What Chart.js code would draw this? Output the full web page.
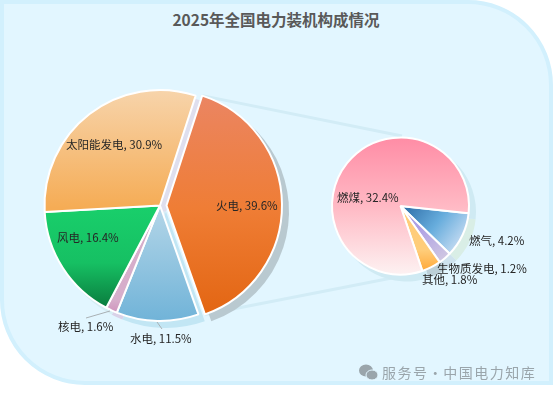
<!DOCTYPE html>
<html>
<head>
<meta charset="utf-8">
<script src="https://cdn.jsdelivr.net/npm/chart.js@4"></script>
<style>
html, body { margin: 0; padding: 0; background: #fff; }
#page { position: relative; width: 554px; height: 394px; overflow: hidden; font-family: "Noto Sans CJK SC", sans-serif; }
#panel { position: absolute; left: 0; top: 0; width: 545px; height: 377px; background: #e2f6ff; border: 4px solid #d2f0fd; border-radius: 0 85px 0 85px; }
#title { position: absolute; left: -1px; top: 9px; width: 554px; text-align: center; font-size: 15.5px; line-height: 20px; font-weight: bold; color: #595959; }
canvas { position: absolute; left: 0; top: 0; }
#mark { position: absolute; left: 359px; top: 362px; height: 20px; display: flex; align-items: center; font-size: 14px; color: #9aa5ab; letter-spacing: 1.5px; word-spacing: -5px; }
#mark svg { margin-right: 4px; }
</style>
</head>
<body>
<div id="page">
  <div id="panel"></div>
  <div id="title">2025年全国电力装机构成情况</div>
  <canvas id="main" width="554" height="394"></canvas>
  <canvas id="zoom" width="554" height="394"></canvas>
  <div id="mark">
    <svg width="19" height="17" viewBox="0 0 19 17">
      <ellipse cx="7" cy="6.5" rx="7" ry="6" fill="#9aa5ab"/>
      <ellipse cx="13" cy="11" rx="6" ry="5" fill="#9aa5ab" stroke="#e2f6ff"/>
    </svg>服务号 · 中国电力知库
  </div>
</div>
<script>
// data
var mainCategories = ['火电', '水电', '核电', '风电', '太阳能发电'];
var mainValues = [39.6, 11.5, 1.6, 16.4, 30.9];
var zoomCategories = ['燃气', '生物质发电', '其他', '燃煤'];
var zoomValues = [4.2, 1.2, 1.8, 32.4];

// styles
var mainGradients = [
    [0, 96, 0, 322, ['#eb8562', '#ef7d35', '#e26410']],
    [0, 206, 0, 322, ['#b4d6e8', '#70b3d8']],
    [0, 300, 0, 320, ['#d6aecb', '#cc85b5']],
    [0, 206, 0, 320, ['#19cf6b', '#16c063', '#076833']],
    [0, 90, 0, 208, ['#f7d4ab', '#f5ac55']]
];
var zoomGradients = [
    [402, 206, 462, 252, ['#2c6ba6', '#66acdc', '#d4e3f6']],
    [420, 226, 445, 262, ['#ad9fe4', '#d2cae2']],
    [0, 250, 0, 272, ['#ffcd7a', '#ffa736']],
    [0, 137, 0, 275, ['#ff8ca5', '#ffb9c4', '#fdf2f2']]
];
var mainShadows = ['#b9c9d0', '#c2e6f4', '#d9d2e8', '#d6edf4', '#dfdfee'];
var zoomShadows = ['#d9eee6', '#cfe3ee', '#bccfd7', '#cfeaf3'];
var mainLabelPos = [[216, 206], [130, 339], [58, 327], [57, 238], [66, 145]];
var zoomLabelPos = [[469, 241], [437, 269], [422, 280], [337, 198]];

function gradients(canvas, list) {
    var c = canvas.getContext('2d');
    return list.map(function(g) {
        var grad = c.createLinearGradient(g[0], g[1], g[2], g[3]);
        g[4].forEach(function(col, i) {
            grad.addColorStop(i / (g[4].length - 1), col);
        });
        return grad;
    });
}

// draws slice shadows under the pie and the labels on top
function piePlugin(categories, values, shadows, labelPos, extra) {
    return {
        id: 'pieExtras',
        afterDatasetsUpdate: function(chart) {
            if (extra.explode) chart.getDatasetMeta(0).data[0].x += extra.explode;
        },
        beforeDatasetsDraw: function(chart) {
            var c = chart.ctx;
            var arcs = chart.getDatasetMeta(0).data;
            if (extra.connector) {
                var a = arcs[0];
                c.save();
                c.strokeStyle = '#d2ecf6';
                c.lineWidth = 3;
                c.beginPath();
                c.moveTo(a.x + Math.cos(a.startAngle) * a.outerRadius, a.y + Math.sin(a.startAngle) * a.outerRadius);
                c.lineTo(extra.connector[0][0], extra.connector[0][1]);
                c.moveTo(a.x + Math.cos(a.endAngle) * a.outerRadius, a.y + Math.sin(a.endAngle) * a.outerRadius);
                c.lineTo(extra.connector[1][0], extra.connector[1][1]);
                c.stroke();
                c.restore();
            }
            arcs.forEach(function(a, i) {
                c.fillStyle = shadows[i];
                c.beginPath();
                c.moveTo(a.x + 6, a.y + 6);
                c.arc(a.x + 6, a.y + 6, a.outerRadius + 1, a.startAngle, a.endAngle);
                c.closePath();
                c.fill();
            });
        },
        afterDatasetsDraw: function(chart) {
            var c = chart.ctx;
            (extra.leaders || []).forEach(function(l) {
                c.strokeStyle = '#a9b0b4';
                c.lineWidth = 1;
                c.beginPath();
                c.moveTo(l[0], l[1]);
                c.lineTo(l[2], l[3]);
                c.stroke();
            });
            c.font = '11.5px "Noto Sans CJK SC"';
            c.fillStyle = '#262626';
            c.textAlign = 'left';
            c.textBaseline = 'middle';
            categories.forEach(function(name, i) {
                c.fillText(name + ', ' + values[i].toFixed(1) + '%', labelPos[i][0], labelPos[i][1]);
            });
        }
    };
}

function makePie(id, categories, values, colors, rotation, radius, padding, plugin) {
    return new Chart(document.getElementById(id), {
        type: 'pie',
        data: {
            labels: categories,
            datasets: [{
                data: values,
                backgroundColor: colors,
                borderColor: '#ffffff',
                borderWidth: 2
            }]
        },
        options: {
            responsive: false,
            animation: false,
            events: [],
            rotation: rotation,
            radius: radius,
            layout: { padding: padding },
            plugins: {
                legend: { display: false },
                tooltip: { enabled: false }
            }
        },
        plugins: [plugin]
    });
}

makePie('main', mainCategories, mainValues, gradients(document.getElementById('main'), mainGradients), 18, 115.5,
    { left: 0, right: 234, top: 17, bottom: 0 },
    piePlugin(mainCategories, mainValues, mainShadows, mainLabelPos, {
        explode: 6.5,
        connector: [[402, 136], [402, 276]],
        leaders: [[86, 318, 110, 311], [157, 322, 162, 329]]
    }));

makePie('zoom', zoomCategories, zoomValues, gradients(document.getElementById('zoom'), zoomGradients), 96, 68.5,
    { left: 247, right: 0, top: 18, bottom: 0 },
    piePlugin(zoomCategories, zoomValues, zoomShadows, zoomLabelPos, {}));
</script>
</body>
</html>
